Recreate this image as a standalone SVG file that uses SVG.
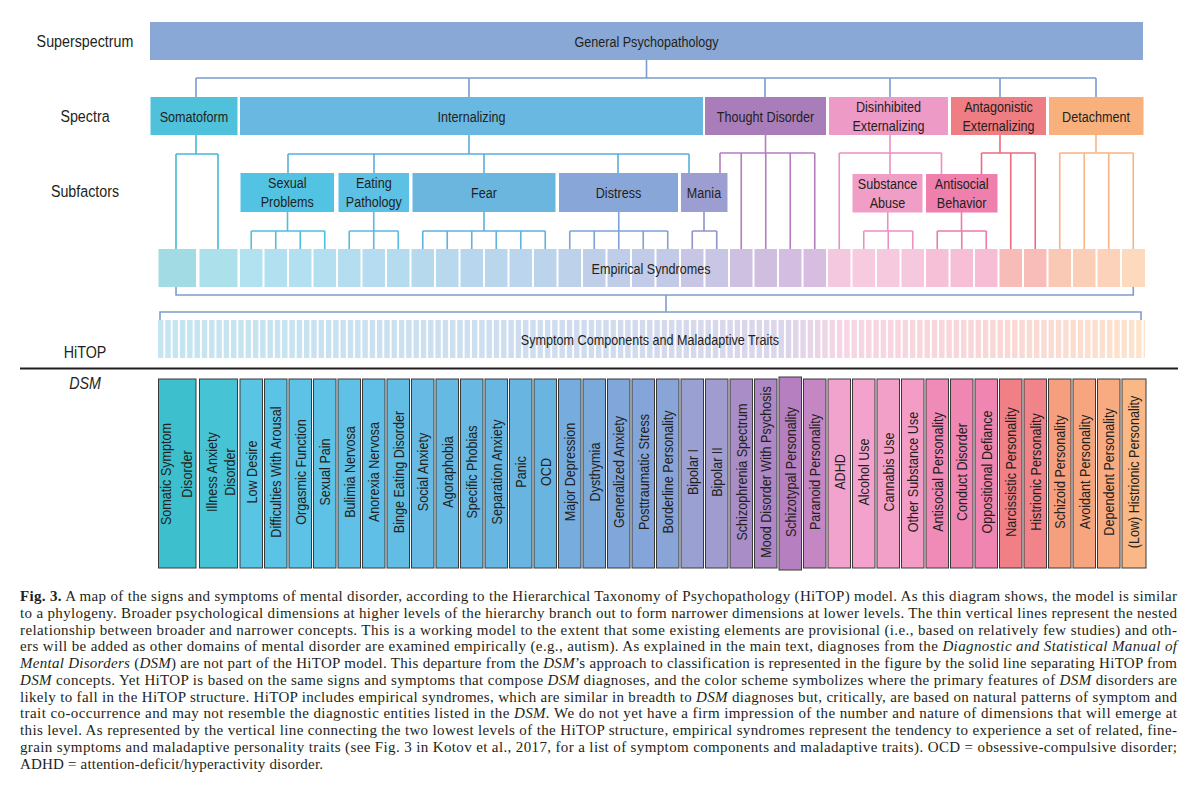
<svg xmlns="http://www.w3.org/2000/svg" width="1200" height="791" viewBox="0 0 1200 791">
<defs>
<style>
.t{font-family:"Liberation Sans",Arial,Helvetica,sans-serif;font-size:15px;fill:#231f20;text-anchor:middle}
.lab{font-size:17px}
.it{font-style:italic}
.dsm{stroke:#3a3a3a;stroke-width:1}
.c{fill:none;stroke-width:1.6}
.c-top{stroke:#7b9ccd}.c-som{stroke:#46b9d4}.c-int{stroke:#5aaedb}.c-sex{stroke:#4fbfdf}.c-eat{stroke:#58bae2}
.c-fear{stroke:#61b0dd}.c-dis{stroke:#7ea2d6}.c-man{stroke:#9094cc}.c-td{stroke:#b57cc0}.c-de{stroke:#ec8fc0}
.c-sa{stroke:#ec90c0}.c-ab{stroke:#ed7aab}.c-ae{stroke:#ea6c7f}.c-det{stroke:#f7b486}.c-bot{stroke:#7f9dcb}
.cap{font-family:"Liberation Serif","Times New Roman",serif;font-size:15px;fill:#231f20}
.b{font-weight:bold}
</style>
<linearGradient id="symG" gradientUnits="userSpaceOnUse" x1="158" y1="0" x2="1145" y2="0">
<stop offset="0" stop-color="#c4e5f1"/><stop offset="0.45" stop-color="#d0dcef"/><stop offset="0.64" stop-color="#dcd5ea"/>
<stop offset="0.69" stop-color="#f6d5e5"/><stop offset="0.85" stop-color="#f9d7d6"/><stop offset="1" stop-color="#fde4cb"/>
</linearGradient>
<pattern id="gaps" patternUnits="userSpaceOnUse" x="158" y="0" width="7.3" height="791">
<rect x="5.4" y="0" width="1.9" height="791" fill="#ffffff"/>
</pattern>
</defs>
<rect x="0" y="0" width="1200" height="791" fill="#ffffff"/>

<g id="connectors" class="c">
<path class="c-top" d="M646.5,60V78M196,78H1096M196,78V97M469,78V97M765,78V97M890,78V97M1000,78V97M1096,78V97"/>
<path class="c-som" d="M196,135V154M176,154H218M176,154V249M218,154V249"/>
<path class="c-int" d="M469,135V154M288,154H689M288,154V173M374,154V173M484,154V173M618,154V173M689,154V173"/>
<path class="c-sex" d="M287.5,212V231M251.25,231H324.75M251.25,231V249M275.75,231V249M300.25,231V249M324.75,231V249"/>
<path class="c-eat" d="M373.75,212V231M349.25,231H398.25M349.25,231V249M373.75,231V249M398.25,231V249"/>
<path class="c-fear" d="M484,212V231M422.75,231H545.25M422.75,231V249M447.25,231V249M471.75,231V249M496.25,231V249M520.75,231V249M545.25,231V249"/>
<path class="c-dis" d="M618.75,212V231M569.75,231H667.75M569.75,231V249M594.25,231V249M618.75,231V249M643.25,231V249M667.75,231V249"/>
<path class="c-man" d="M704,212V231M692.25,231H716.75M692.25,231V249M716.75,231V249"/>
<path class="c-td" d="M765.5,135V153M720,153H814.75M720,153V173M741.25,153V249M765.75,153V249M790.25,153V249M814.75,153V249"/>
<path class="c-de" d="M890,135V153M839.25,153H941.5M839.25,153V249M890,153V174M941.5,153V174"/>
<path class="c-sa" d="M887.75,212V231M863.75,231H912.75M863.75,231V249M888.25,231V249M912.75,231V249"/>
<path class="c-ab" d="M961.5,212V231M937.25,231H986.25M937.25,231V249M961.75,231V249M986.25,231V249"/>
<path class="c-ae" d="M1000,135V153M981.5,153H1035.25M981.5,153V174M1010.75,153V249M1035.25,153V249"/>
<path class="c-det" d="M1096,135V153M1059.75,153H1133.25M1059.75,153V249M1084.25,153V249M1108.75,153V249M1133.25,153V249"/>
<path class="c-bot" d="M176,287V295H1133.25V287M666,295V312M160,320V312H1141V320"/>
</g>

<g id="level-labels">
<text class="t lab" transform="translate(85,47) scale(0.84,1)">Superspectrum</text>
<text class="t lab" transform="translate(85,122) scale(0.84,1)">Spectra</text>
<text class="t lab" transform="translate(85,197) scale(0.84,1)">Subfactors</text>
<text class="t lab" transform="translate(85,358) scale(0.84,1)">HiTOP</text>
<text class="t lab it" transform="translate(85,389) scale(0.84,1)">DSM</text>
</g>

<g id="general-psychopathology"><rect x="150" y="22" width="993" height="38" fill="#8aa8d5"/><text class="t" transform="translate(646.5,46.5) scale(0.84,1)">General Psychopathology</text></g>

<g id="spectrum-somatoform"><rect x="150.5" y="97" width="87" height="38" fill="#4fc1db"/><text class="t" transform="translate(194,121.5) scale(0.84,1)">Somatoform</text></g>
<g id="spectrum-internalizing"><rect x="240" y="97" width="463" height="38" fill="#68b8e1"/><text class="t" transform="translate(471.5,121.5) scale(0.84,1)">Internalizing</text></g>
<g id="spectrum-thought-disorder"><rect x="705" y="97" width="121" height="38" fill="#a97dba"/><text class="t" transform="translate(765.5,121.5) scale(0.84,1)">Thought Disorder</text></g>
<g id="spectrum-disinhibited"><rect x="829" y="97" width="119" height="38" fill="#ee9ac7"/><text class="t" transform="translate(888.5,111.5) scale(0.84,1)">Disinhibited</text><text class="t" transform="translate(888.5,131) scale(0.84,1)">Externalizing</text></g>
<g id="spectrum-antagonistic"><rect x="951" y="97" width="95" height="38" fill="#ef7d84"/><text class="t" transform="translate(998.5,111.5) scale(0.84,1)">Antagonistic</text><text class="t" transform="translate(998.5,131) scale(0.84,1)">Externalizing</text></g>
<g id="spectrum-detachment"><rect x="1049" y="97" width="94.5" height="38" fill="#f8b07c"/><text class="t" transform="translate(1096,121.5) scale(0.84,1)">Detachment</text></g>

<g id="sub-sexual-problems"><rect x="240.5" y="173" width="93.5" height="39" fill="#52c3e2"/><text class="t" transform="translate(287.3,188) scale(0.84,1)">Sexual</text><text class="t" transform="translate(287.3,207) scale(0.84,1)">Problems</text></g>
<g id="sub-eating-pathology"><rect x="338.5" y="173" width="70.5" height="39" fill="#5dc0e5"/><text class="t" transform="translate(373.8,188) scale(0.84,1)">Eating</text><text class="t" transform="translate(373.8,207) scale(0.84,1)">Pathology</text></g>
<g id="sub-fear"><rect x="412.5" y="173" width="143" height="39" fill="#6ab6df"/><text class="t" transform="translate(484,198) scale(0.84,1)">Fear</text></g>
<g id="sub-distress"><rect x="559" y="173" width="119" height="39" fill="#88a7d8"/><text class="t" transform="translate(618.5,198) scale(0.84,1)">Distress</text></g>
<g id="sub-mania"><rect x="681" y="173" width="46.5" height="39" fill="#9c9dd1"/><text class="t" transform="translate(704,198) scale(0.84,1)">Mania</text></g>
<g id="sub-substance-abuse"><rect x="852.5" y="174" width="70" height="38.5" fill="#f09ec6"/><text class="t" transform="translate(887.5,189) scale(0.84,1)">Substance</text><text class="t" transform="translate(887.5,208) scale(0.84,1)">Abuse</text></g>
<g id="sub-antisocial-behavior"><rect x="926" y="174" width="71.5" height="38.5" fill="#ef80ad"/><text class="t" transform="translate(961.7,189) scale(0.84,1)">Antisocial</text><text class="t" transform="translate(961.7,208) scale(0.84,1)">Behavior</text></g>

<g id="empirical-syndromes">
<g id="es-1"><rect x="158.5" y="249" width="37.5" height="38" fill="#a3dbe4"/></g>
<g id="es-2"><rect x="199.5" y="249" width="38" height="38" fill="#ace0ea"/></g>
<g id="es-3"><rect x="240" y="249" width="22.5" height="38" fill="#b2e1f0"/></g>
<g id="es-4"><rect x="264.5" y="249" width="22.5" height="38" fill="#b3e0f0"/></g>
<g id="es-5"><rect x="289" y="249" width="22.5" height="38" fill="#b3e0f0"/></g>
<g id="es-6"><rect x="313.5" y="249" width="22.5" height="38" fill="#b4dff0"/></g>
<g id="es-7"><rect x="338" y="249" width="22.5" height="38" fill="#b4ddf0"/></g>
<g id="es-8"><rect x="362.5" y="249" width="22.5" height="38" fill="#b5dcf0"/></g>
<g id="es-9"><rect x="387" y="249" width="22.5" height="38" fill="#b5dbef"/></g>
<g id="es-10"><rect x="411.5" y="249" width="22.5" height="38" fill="#b7d9ee"/></g>
<g id="es-11"><rect x="436" y="249" width="22.5" height="38" fill="#b8d8ee"/></g>
<g id="es-12"><rect x="460.5" y="249" width="22.5" height="38" fill="#b8d7ee"/></g>
<g id="es-13"><rect x="485" y="249" width="22.5" height="38" fill="#b9d6ed"/></g>
<g id="es-14"><rect x="509.5" y="249" width="22.5" height="38" fill="#bad5ed"/></g>
<g id="es-15"><rect x="534" y="249" width="22.5" height="38" fill="#bbd4ec"/></g>
<g id="es-16"><rect x="558.5" y="249" width="22.5" height="38" fill="#bdd1eb"/></g>
<g id="es-17"><rect x="583" y="249" width="22.5" height="38" fill="#bfcfea"/></g>
<g id="es-18"><rect x="607.5" y="249" width="22.5" height="38" fill="#c0cde9"/></g>
<g id="es-19"><rect x="632" y="249" width="22.5" height="38" fill="#c2cbe8"/></g>
<g id="es-20"><rect x="656.5" y="249" width="22.5" height="38" fill="#c3cae8"/></g>
<g id="es-21"><rect x="681" y="249" width="22.5" height="38" fill="#c7c7e5"/></g>
<g id="es-22"><rect x="705.5" y="249" width="22.5" height="38" fill="#c9c5e4"/></g>
<g id="es-23"><rect x="730" y="249" width="22.5" height="38" fill="#cdc0e0"/></g>
<g id="es-24"><rect x="754.5" y="249" width="22.5" height="38" fill="#d0bee0"/></g>
<g id="es-25"><rect x="779" y="249" width="22.5" height="38" fill="#d3bde0"/></g>
<g id="es-26"><rect x="803.5" y="249" width="22.5" height="38" fill="#d7bde0"/></g>
<g id="es-27"><rect x="828" y="249" width="22.5" height="38" fill="#f4c8de"/></g>
<g id="es-28"><rect x="852.5" y="249" width="22.5" height="38" fill="#f6cadf"/></g>
<g id="es-29"><rect x="877" y="249" width="22.5" height="38" fill="#f6c9de"/></g>
<g id="es-30"><rect x="901.5" y="249" width="22.5" height="38" fill="#f6c8dd"/></g>
<g id="es-31"><rect x="926" y="249" width="22.5" height="38" fill="#f6c1d7"/></g>
<g id="es-32"><rect x="950.5" y="249" width="22.5" height="38" fill="#f6bfd6"/></g>
<g id="es-33"><rect x="975" y="249" width="22.5" height="38" fill="#f6bdd4"/></g>
<g id="es-34"><rect x="999.5" y="249" width="22.5" height="38" fill="#f7bbb8"/></g>
<g id="es-35"><rect x="1024" y="249" width="22.5" height="38" fill="#f8bdb8"/></g>
<g id="es-36"><rect x="1048.5" y="249" width="22.5" height="38" fill="#fac9b6"/></g>
<g id="es-37"><rect x="1073" y="249" width="22.5" height="38" fill="#fbceb8"/></g>
<g id="es-38"><rect x="1097.5" y="249" width="22.5" height="38" fill="#fcd3ba"/></g>
<g id="es-39"><rect x="1122" y="249" width="23" height="38" fill="#fdd9bd"/></g>
<text class="t" transform="translate(651,273.5) scale(0.84,1)">Empirical Syndromes</text>
</g>

<g id="symptom-components">
<rect x="158" y="320" width="987" height="38" fill="url(#symG)"/>
<rect x="158" y="320" width="987" height="38" fill="url(#gaps)"/>
<text class="t" transform="translate(650,344.5) scale(0.84,1)">Symptom Components and Maladaptive Traits</text>
</g>

<g id="separator"><path d="M20,368.5H1178" stroke="#231f20" stroke-width="2" fill="none"/></g>

<g id="dsm">
<g id="dsm-somatic-symptom-disorder"><rect class="dsm" x="158.5" y="379" width="37.5" height="189" fill="#3ebfcd"/><text class="t" transform="translate(171,474) rotate(-90) scale(0.84,1)">Somatic Symptom</text><text class="t" transform="translate(192,474) rotate(-90) scale(0.84,1)">Disorder</text></g>
<g id="dsm-illness-anxiety-disorder"><rect class="dsm" x="199.5" y="379" width="38" height="189" fill="#47c3d6"/><text class="t" transform="translate(216.5,472) rotate(-90) scale(0.84,1)">Illness Anxiety</text><text class="t" transform="translate(235,472) rotate(-90) scale(0.84,1)">Disorder</text></g>
<g id="dsm-low-desire"><rect class="dsm" x="240" y="379" width="22.5" height="189" fill="#58c5e5"/><text class="t" transform="translate(256.55,472) rotate(-90) scale(0.84,1)">Low Desire</text></g>
<g id="dsm-difficulties-with-arousal"><rect class="dsm" x="264.5" y="379" width="22.5" height="189" fill="#5bc4e6"/><text class="t" transform="translate(281.05,472) rotate(-90) scale(0.84,1)">Difficulties With Arousal</text></g>
<g id="dsm-orgasmic-function"><rect class="dsm" x="289" y="379" width="22.5" height="189" fill="#5cc3e6"/><text class="t" transform="translate(305.55,472) rotate(-90) scale(0.84,1)">Orgasmic Function</text></g>
<g id="dsm-sexual-pain"><rect class="dsm" x="313.5" y="379" width="22.5" height="189" fill="#5dc2e6"/><text class="t" transform="translate(330.05,472) rotate(-90) scale(0.84,1)">Sexual Pain</text></g>
<g id="dsm-bulimia-nervosa"><rect class="dsm" x="338" y="379" width="22.5" height="189" fill="#60c0e6"/><text class="t" transform="translate(354.55,472) rotate(-90) scale(0.84,1)">Bulimia Nervosa</text></g>
<g id="dsm-anorexia-nervosa"><rect class="dsm" x="362.5" y="379" width="22.5" height="189" fill="#60bfe6"/><text class="t" transform="translate(379.05,472) rotate(-90) scale(0.84,1)">Anorexia Nervosa</text></g>
<g id="dsm-binge-eating-disorder"><rect class="dsm" x="387" y="379" width="22.5" height="189" fill="#62bde5"/><text class="t" transform="translate(403.55,472) rotate(-90) scale(0.84,1)">Binge Eating Disorder</text></g>
<g id="dsm-social-anxiety"><rect class="dsm" x="411.5" y="379" width="22.5" height="189" fill="#66bae3"/><text class="t" transform="translate(428.05,472) rotate(-90) scale(0.84,1)">Social Anxiety</text></g>
<g id="dsm-agoraphobia"><rect class="dsm" x="436" y="379" width="22.5" height="189" fill="#66b9e3"/><text class="t" transform="translate(452.55,472) rotate(-90) scale(0.84,1)">Agoraphobia</text></g>
<g id="dsm-specific-phobias"><rect class="dsm" x="460.5" y="379" width="22.5" height="189" fill="#67b8e2"/><text class="t" transform="translate(477.05,472) rotate(-90) scale(0.84,1)">Specific Phobias</text></g>
<g id="dsm-separation-anxiety"><rect class="dsm" x="485" y="379" width="22.5" height="189" fill="#68b7e2"/><text class="t" transform="translate(501.55,472) rotate(-90) scale(0.84,1)">Separation Anxiety</text></g>
<g id="dsm-panic"><rect class="dsm" x="509.5" y="379" width="22.5" height="189" fill="#69b5e1"/><text class="t" transform="translate(526.05,472) rotate(-90) scale(0.84,1)">Panic</text></g>
<g id="dsm-ocd"><rect class="dsm" x="534" y="379" width="22.5" height="189" fill="#6ab4e1"/><text class="t" transform="translate(550.55,472) rotate(-90) scale(0.84,1)">OCD</text></g>
<g id="dsm-major-depression"><rect class="dsm" x="558.5" y="379" width="22.5" height="189" fill="#76acde"/><text class="t" transform="translate(575.05,472) rotate(-90) scale(0.84,1)">Major Depression</text></g>
<g id="dsm-dysthymia"><rect class="dsm" x="583" y="379" width="22.5" height="189" fill="#7aa9dc"/><text class="t" transform="translate(599.55,472) rotate(-90) scale(0.84,1)">Dysthymia</text></g>
<g id="dsm-generalized-anxiety"><rect class="dsm" x="607.5" y="379" width="22.5" height="189" fill="#80a6da"/><text class="t" transform="translate(624.05,472) rotate(-90) scale(0.84,1)">Generalized Anxiety</text></g>
<g id="dsm-posttraumatic-stress"><rect class="dsm" x="632" y="379" width="22.5" height="189" fill="#84a5d9"/><text class="t" transform="translate(648.55,472) rotate(-90) scale(0.84,1)">Posttraumatic Stress</text></g>
<g id="dsm-borderline-personality"><rect class="dsm" x="656.5" y="379" width="22.5" height="189" fill="#89a4d7"/><text class="t" transform="translate(673.05,472) rotate(-90) scale(0.84,1)">Borderline Personality</text></g>
<g id="dsm-bipolar-i"><rect class="dsm" x="681" y="379" width="22.5" height="189" fill="#9aa0d1"/><text class="t" transform="translate(697.55,472) rotate(-90) scale(0.84,1)">Bipolar I</text></g>
<g id="dsm-bipolar-ii"><rect class="dsm" x="705.5" y="379" width="22.5" height="189" fill="#a09ccf"/><text class="t" transform="translate(722.05,472) rotate(-90) scale(0.84,1)">Bipolar II</text></g>
<g id="dsm-schizophrenia-spectrum"><rect class="dsm" x="730" y="379" width="22.5" height="189" fill="#a98dc6"/><text class="t" transform="translate(746.55,472) rotate(-90) scale(0.84,1)">Schizophrenia Spectrum</text></g>
<g id="dsm-mood-disorder-with-psychosis"><rect class="dsm" x="754.5" y="379" width="22.5" height="189" fill="#ad88c4"/><text class="t" transform="translate(771.05,472) rotate(-90) scale(0.84,1)">Mood Disorder With Psychosis</text></g>
<g id="dsm-schizotypal-personality"><rect class="dsm" x="779" y="377" width="22.5" height="193" fill="#b680c0"/><text class="t" transform="translate(795.55,472) rotate(-90) scale(0.84,1)">Schizotypal Personality</text></g>
<g id="dsm-paranoid-personality"><rect class="dsm" x="803.5" y="379" width="22.5" height="189" fill="#c487c3"/><text class="t" transform="translate(820.05,472) rotate(-90) scale(0.84,1)">Paranoid Personality</text></g>
<g id="dsm-adhd"><rect class="dsm" x="828" y="379" width="22.5" height="189" fill="#f2a3cd"/><text class="t" transform="translate(844.55,472) rotate(-90) scale(0.84,1)">ADHD</text></g>
<g id="dsm-alcohol-use"><rect class="dsm" x="852.5" y="379" width="22.5" height="189" fill="#f3a2cb"/><text class="t" transform="translate(869.05,472) rotate(-90) scale(0.84,1)">Alcohol Use</text></g>
<g id="dsm-cannabis-use"><rect class="dsm" x="877" y="379" width="22.5" height="189" fill="#f3a0c9"/><text class="t" transform="translate(893.55,472) rotate(-90) scale(0.84,1)">Cannabis Use</text></g>
<g id="dsm-other-substance-use"><rect class="dsm" x="901.5" y="379" width="22.5" height="189" fill="#f39cc6"/><text class="t" transform="translate(918.05,472) rotate(-90) scale(0.84,1)">Other Substance Use</text></g>
<g id="dsm-antisocial-personality"><rect class="dsm" x="926" y="379" width="22.5" height="189" fill="#f08ab6"/><text class="t" transform="translate(942.55,472) rotate(-90) scale(0.84,1)">Antisocial Personality</text></g>
<g id="dsm-conduct-disorder"><rect class="dsm" x="950.5" y="379" width="22.5" height="189" fill="#f087b3"/><text class="t" transform="translate(967.05,472) rotate(-90) scale(0.84,1)">Conduct Disorder</text></g>
<g id="dsm-oppositional-defiance"><rect class="dsm" x="975" y="379" width="22.5" height="189" fill="#ef85b0"/><text class="t" transform="translate(991.55,472) rotate(-90) scale(0.84,1)">Oppositional Defiance</text></g>
<g id="dsm-narcissistic-personality"><rect class="dsm" x="999.5" y="379" width="22.5" height="189" fill="#f07f86"/><text class="t" transform="translate(1016.05,472) rotate(-90) scale(0.84,1)">Narcissistic Personality</text></g>
<g id="dsm-histrionic-personality"><rect class="dsm" x="1024" y="379" width="22.5" height="189" fill="#f1848a"/><text class="t" transform="translate(1040.55,472) rotate(-90) scale(0.84,1)">Histrionic Personality</text></g>
<g id="dsm-schizoid-personality"><rect class="dsm" x="1048.5" y="379" width="22.5" height="189" fill="#f69f7f"/><text class="t" transform="translate(1065.05,472) rotate(-90) scale(0.84,1)">Schizoid Personality</text></g>
<g id="dsm-avoidant-personality"><rect class="dsm" x="1073" y="379" width="22.5" height="189" fill="#f7a57e"/><text class="t" transform="translate(1089.55,472) rotate(-90) scale(0.84,1)">Avoidant Personality</text></g>
<g id="dsm-dependent-personality"><rect class="dsm" x="1097.5" y="379" width="22.5" height="189" fill="#f8ab81"/><text class="t" transform="translate(1114.05,472) rotate(-90) scale(0.84,1)">Dependent Personality</text></g>
<g id="dsm-low-histrionic-personality"><rect class="dsm" x="1122" y="379" width="24" height="189" fill="#fbb887"/><text class="t" transform="translate(1139.3,472) rotate(-90) scale(0.84,1)">(Low) Histrionic Personality</text></g>
</g>

<g id="caption">
<text class="cap" x="20" y="601" textLength="1157" lengthAdjust="spacing"><tspan class="b">Fig. 3.</tspan> A map of the signs and symptoms of mental disorder, according to the Hierarchical Taxonomy of Psychopathology (HiTOP) model. As this diagram shows, the model is similar</text>
<text class="cap" x="20" y="617.75" textLength="1157" lengthAdjust="spacing">to a phylogeny. Broader psychological dimensions at higher levels of the hierarchy branch out to form narrower dimensions at lower levels. The thin vertical lines represent the nested</text>
<text class="cap" x="20" y="634.5" textLength="1157" lengthAdjust="spacing">relationship between broader and narrower concepts. This is a working model to the extent that some existing elements are provisional (i.e., based on relatively few studies) and oth-</text>
<text class="cap" x="20" y="651.25" textLength="1157" lengthAdjust="spacing">ers will be added as other domains of mental disorder are examined empirically (e.g., autism). As explained in the main text, diagnoses from the <tspan class="it">Diagnostic and Statistical Manual of</tspan></text>
<text class="cap" x="20" y="668" textLength="1157" lengthAdjust="spacing"><tspan class="it">Mental Disorders</tspan> (<tspan class="it">DSM</tspan>) are not part of the HiTOP model. This departure from the <tspan class="it">DSM</tspan>’s approach to classification is represented in the figure by the solid line separating HiTOP from</text>
<text class="cap" x="20" y="684.75" textLength="1157" lengthAdjust="spacing"><tspan class="it">DSM</tspan> concepts. Yet HiTOP is based on the same signs and symptoms that compose <tspan class="it">DSM</tspan> diagnoses, and the color scheme symbolizes where the primary features of <tspan class="it">DSM</tspan> disorders are</text>
<text class="cap" x="20" y="701.5" textLength="1157" lengthAdjust="spacing">likely to fall in the HiTOP structure. HiTOP includes empirical syndromes, which are similar in breadth to <tspan class="it">DSM</tspan> diagnoses but, critically, are based on natural patterns of symptom and</text>
<text class="cap" x="20" y="718.25" textLength="1157" lengthAdjust="spacing">trait co-occurrence and may not resemble the diagnostic entities listed in the <tspan class="it">DSM.</tspan> We do not yet have a firm impression of the number and nature of dimensions that will emerge at</text>
<text class="cap" x="20" y="735" textLength="1157" lengthAdjust="spacing">this level. As represented by the vertical line connecting the two lowest levels of the HiTOP structure, empirical syndromes represent the tendency to experience a set of related, fine-</text>
<text class="cap" x="20" y="751.75" textLength="1157" lengthAdjust="spacing">grain symptoms and maladaptive personality traits (see Fig. 3 in Kotov et al., 2017, for a list of symptom components and maladaptive traits). OCD = obsessive-compulsive disorder;</text>
<text class="cap" x="20" y="768.5" textLength="303" lengthAdjust="spacing">ADHD = attention-deficit/hyperactivity disorder.</text>
</g>
</svg>
